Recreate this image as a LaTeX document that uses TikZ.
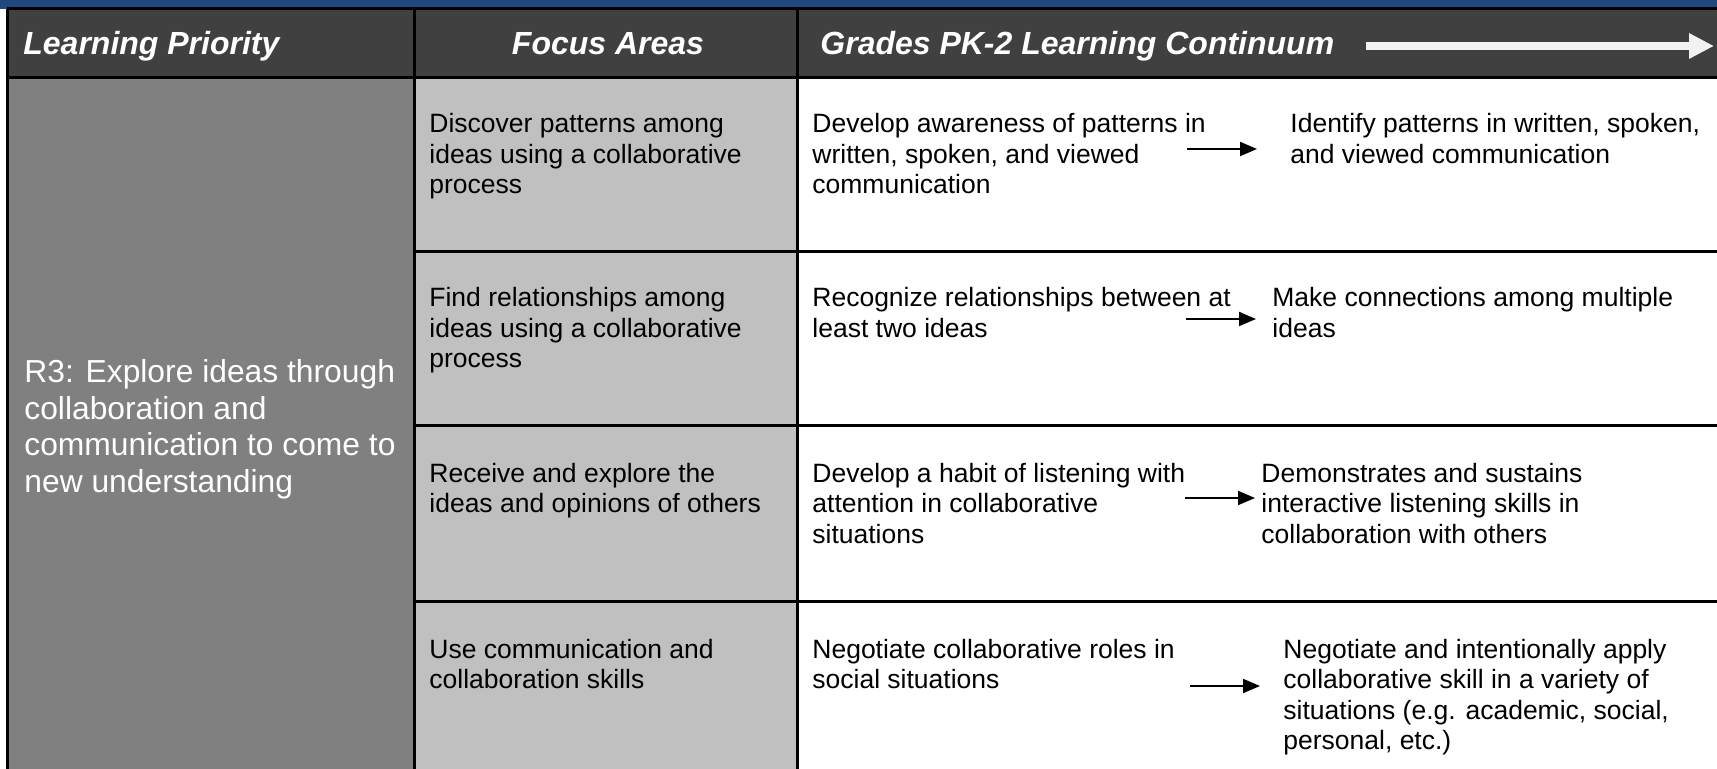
\documentclass[tikz,border=0pt]{standalone}
\usepackage{fontspec}
\setmainfont{Liberation Sans}
\usetikzlibrary{arrows.meta}
\definecolor{topblue}{HTML}{1F497D}
\definecolor{hdrgray}{HTML}{404040}
\definecolor{lpgray}{HTML}{808080}
\definecolor{fagray}{HTML}{C0C0C0}
\newcommand{\mylines}[1]{\begin{tabular}[t]{@{}l@{}}#1\end{tabular}}
\tikzset{
  bodytext/.style={font=\fontsize{13.25pt}{15.25pt}\selectfont, inner sep=0pt, anchor=base west, text=black},
  lptext/.style={font=\fontsize{15.9pt}{18.25pt}\selectfont, inner sep=0pt, anchor=base west, text=white},
  hdrtext/.style={font=\fontsize{16pt}{18pt}\selectfont\bfseries\itshape, inner sep=0pt, text=white},
  gridline/.style={line width=1.5pt, draw=black},
  contarrow/.style={line width=1pt, draw=black, -{Triangle[length=8.5pt,width=7pt]}},
  hdrarrow/.style={line width=3.75pt, draw=white!95!black, -{Triangle[length=12.5pt,width=12pt]}}
}
\begin{document}
\begin{tikzpicture}[x=0.5pt, y=-0.5pt]
\useasboundingbox (0,0) rectangle (1717,769);
\fill[white] (0,0) rectangle (1717,769);
% bands and cell fills
\fill[topblue] (0,0) rectangle (1717,9);
\fill[hdrgray] (7,9) rectangle (1717,78);
\fill[lpgray] (7,78) rectangle (413,769);
\fill[fagray] (413,78) rectangle (797,769);
% grid lines
\draw[gridline] (7,9) -- (1717,9);
\draw[gridline] (7,78) -- (1717,78);
\draw[gridline] (413,252) -- (1717,252);
\draw[gridline] (413,426) -- (1717,426);
\draw[gridline] (413,601) -- (1717,601);
\draw[gridline] (7.5,9) -- (7.5,769);
\draw[gridline] (414,9) -- (414,769);
\draw[gridline] (797,9) -- (797,769);
% header
\node[hdrtext, anchor=base west] (hlp) at (23,55) {Learning Priority};
\node[hdrtext, anchor=base] (hfa) at (608,55) {Focus Areas};
\node[hdrtext, anchor=base west] (hgc) at (820,55) {Grades PK-2 Learning Continuum};
\coordinate (hs) at ([xshift=15.5pt, yshift=4.5pt]hgc.base east);
\coordinate (he) at (1714,46);
\draw[hdrarrow] (hs) -- (he);
% learning priority
\node[lptext] (lp) at (24,383) {\mylines{R3: Explore ideas through\\collaboration and\\communication to come to\\new understanding}};
% focus areas
\node[bodytext] (f1) at (429,133) {\mylines{Discover patterns among\\ideas using a collaborative\\process}};
\node[bodytext] (f2) at (429,307) {\mylines{Find relationships among\\ideas using a collaborative\\process}};
\node[bodytext] (f3) at (429,482) {\mylines{Receive and explore the\\ideas and opinions of others}};
\node[bodytext] (f4) at (429,658) {\mylines{Use communication and\\collaboration skills}};
% continuum left
\node[bodytext] (c1a) at (812,133) {\mylines{Develop awareness of patterns in\\written, spoken, and viewed\\communication}};
\node[bodytext] (c2a) at (812,307) {\mylines{Recognize relationships between at\\least two ideas}};
\node[bodytext] (c3a) at (812,482) {\mylines{Develop a habit of listening with\\attention in collaborative\\situations}};
\node[bodytext] (c4a) at (812,658) {\mylines{Negotiate collaborative roles in\\social situations}};
% continuum right
\node[bodytext] (c1b) at (1290,133) {\mylines{Identify patterns in written, spoken,\\and viewed communication}};
\node[bodytext] (c2b) at (1272,307) {\mylines{Make connections among multiple\\ideas}};
\node[bodytext] (c3b) at (1261,482) {\mylines{Demonstrates and sustains\\interactive listening skills in\\collaboration with others}};
\node[bodytext] (c4b) at (1283,658) {\mylines{Negotiate and intentionally apply\\collaborative skill in a variety of\\situations (e.g. academic, social,\\personal, etc.)}};
% arrows
\coordinate (a1s) at (1187,149); \coordinate (a1e) at (1257,149);
\coordinate (a2s) at (1186,319); \coordinate (a2e) at (1256,319);
\coordinate (a3s) at (1185,498); \coordinate (a3e) at (1255,498);
\coordinate (a4s) at (1190,686); \coordinate (a4e) at (1260,686);
\draw[contarrow] (a1s) -- (a1e);
\draw[contarrow] (a2s) -- (a2e);
\draw[contarrow] (a3s) -- (a3e);
\draw[contarrow] (a4s) -- (a4e);
\end{tikzpicture}
\end{document}
